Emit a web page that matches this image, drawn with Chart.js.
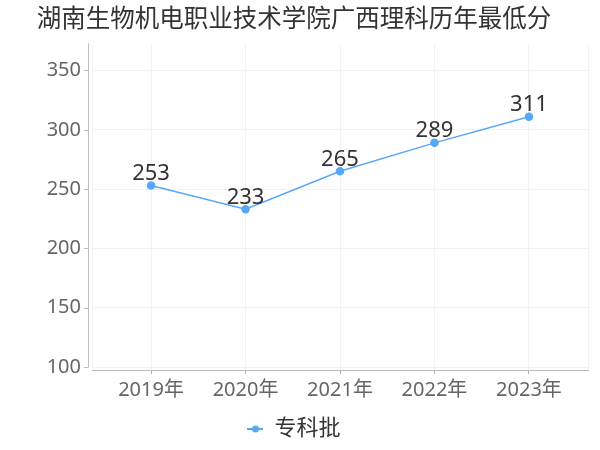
<!DOCTYPE html>
<html>
<head>
<meta charset="utf-8">
<script src="https://cdn.jsdelivr.net/npm/chart.js@4"></script>
<style>
  body { margin: 0; background: #fff; }
  #wrap { width: 600px; height: 450px; }
</style>
</head>
<body>
<div id="wrap"><canvas id="chart" width="600" height="450"></canvas></div>
<script>
// chart data
const years = ['2019年', '2020年', '2021年', '2022年', '2023年'];
const scores = [253, 233, 265, 289, 311];
const yTicks = [100, 150, 200, 250, 300, 350];
const seriesName = '专科批';

const lineColor = '#55a8f8';
const fontFamily = '"Noto Sans", "Noto Sans CJK SC", sans-serif';

// legend marker: short line with a dot
const marker = document.createElement('canvas');
marker.width = 16; marker.height = 10;
const mctx = marker.getContext('2d');
mctx.strokeStyle = lineColor; mctx.lineWidth = 2;
mctx.beginPath(); mctx.moveTo(0, 5); mctx.lineTo(16, 5); mctx.stroke();
mctx.fillStyle = lineColor;
mctx.beginPath(); mctx.arc(8, 5, 3.5, 0, Math.PI * 2); mctx.fill();

// value labels above the points + detached y axis line
const extras = {
    id: 'extras',
    afterDatasetsDraw(chart) {
        const ctx = chart.ctx;
        const meta = chart.getDatasetMeta(0);
        ctx.save();
        ctx.font = '22px ' + fontFamily;
        ctx.fillStyle = '#333';
        ctx.textAlign = 'center';
        ctx.textBaseline = 'bottom';
        meta.data.forEach((pt, i) => {
            ctx.fillText(String(scores[i]), pt.x, pt.y - 1);
        });
        ctx.restore();
    },
    beforeDatasetsDraw(chart) {
        const ctx = chart.ctx;
        const area = chart.chartArea;
        const y = chart.scales.y;
        const x0 = area.left - 4;
        ctx.save();
        ctx.strokeStyle = '#bbb';
        ctx.lineWidth = 1;
        ctx.beginPath();
        ctx.moveTo(x0 + 0.5, area.top - 1);
        ctx.lineTo(x0 + 0.5, y.getPixelForValue(yTicks[0]));
        yTicks.forEach(v => {
            const py = Math.round(y.getPixelForValue(v)) + 0.5;
            ctx.moveTo(x0 + 0.5, py);
            ctx.lineTo(x0 - 4, py);
        });
        ctx.stroke();
        ctx.restore();
    }
};

const ctx = document.getElementById('chart').getContext('2d');
new Chart(ctx, {
    type: 'line',
    data: {
        datasets: [{
            label: seriesName,
            data: scores.map((v, i) => ({ x: i, y: v })),
            borderColor: lineColor,
            backgroundColor: lineColor,
            pointBackgroundColor: lineColor,
            pointBorderColor: lineColor,
            borderWidth: 1.5,
            pointRadius: 3.5,
            pointStyle: 'circle',
            tension: 0
        }]
    },
    options: {
        responsive: false,
        animation: false,
        layout: { padding: { left: 0, right: 12, top: 0, bottom: 0 } },
        plugins: {
            title: {
                display: true,
                text: '湖南生物机电职业技术学院广西理科历年最低分',
                color: '#333',
                font: { family: fontFamily, size: 24.5, weight: 'normal' },
                padding: { top: 5, bottom: 10 }
            },
            legend: {
                position: 'bottom',
                labels: {
                    color: '#333',
                    font: { family: fontFamily, size: 22 },
                    usePointStyle: true,
                    pointStyleWidth: 16,
                    padding: 8,
                    generateLabels: () => [{
                        text: seriesName,
                        pointStyle: marker,
                        fillStyle: lineColor,
                        strokeStyle: lineColor,
                        fontColor: '#333',
                        lineWidth: 0,
                        datasetIndex: 0
                    }]
                }
            },
            tooltip: { enabled: false }
        },
        scales: {
            x: {
                type: 'linear',
                min: -0.625,
                max: 4.625,
                afterBuildTicks: s => {
                    s.ticks = [-0.625, 0, 1, 2, 3, 4, 4.625].map(v => ({ value: v }));
                },
                afterFit: s => { s.height = 40; },
                grid: {
                    color: '#f2f2f2',
                    tickLength: 4,
                    tickColor: c => Number.isInteger(c.tick.value) ? '#aaa' : 'rgba(0,0,0,0)'
                },
                border: { display: true, color: '#bbb' },
                ticks: {
                    color: '#666',
                    font: { family: fontFamily, size: 20 },
                    padding: 4,
                    maxRotation: 0,
                    autoSkip: false,
                    callback: v => Number.isInteger(v) ? years[v] : ''
                }
            },
            y: {
                min: 97.5,
                max: 372,
                afterBuildTicks: s => { s.ticks = yTicks.map(v => ({ value: v })); },
                afterFit: s => { s.width = 92; },
                grid: { color: '#f2f2f2', drawTicks: false },
                border: { display: false },
                ticks: {
                    color: '#666',
                    font: { family: fontFamily, size: 20 },
                    padding: 11
                }
            }
        }
    },
    plugins: [extras]
});
</script>
</body>
</html>
